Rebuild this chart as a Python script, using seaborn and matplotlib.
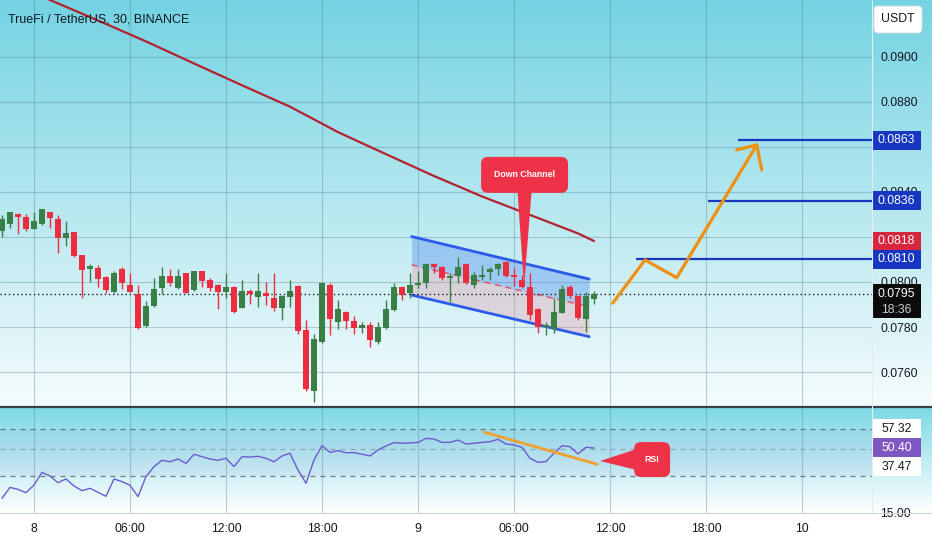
import numpy as np
import matplotlib
matplotlib.use("Agg")
import matplotlib.pyplot as plt
import matplotlib.font_manager as fm
from matplotlib.colors import to_rgb
from matplotlib.patches import Rectangle, FancyBboxPatch, Polygon
import seaborn as sns

# ---- data ----
# 30 min candles, x axis in hours from day "8" 00:00 (first candle 22:00 the day before)
first_candle_hour = -2.0
candle_step = 0.5

opens = [0.08228, 0.08257, 0.08302, 0.08291, 0.08236, 0.08257, 0.08310, 0.08280, 0.08197, 0.08221,
         0.08118, 0.08056, 0.08060, 0.08021, 0.07955, 0.08059, 0.07988, 0.07946, 0.07803, 0.07893,
         0.07973, 0.08027, 0.07972, 0.08038, 0.07964, 0.08047, 0.08011, 0.07988, 0.07954, 0.07978,
         0.07886, 0.07961, 0.07935, 0.07950, 0.07929, 0.07884, 0.07935, 0.07982, 0.07787, 0.07517,
         0.07733, 0.07988, 0.07824, 0.07867, 0.07828, 0.07796, 0.07809, 0.07733, 0.07794, 0.07876,
         0.07979, 0.07952, 0.07985, 0.07997, 0.08080, 0.08068, 0.08016, 0.08027, 0.08080, 0.07987,
         0.08023, 0.08046, 0.08056, 0.08089, 0.08030, 0.08009, 0.07979, 0.07879, 0.07799, 0.07790,
         0.07864, 0.07979, 0.07938, 0.07834, 0.07926]
highs = [0.08298, 0.08313, 0.08305, 0.08301, 0.08310, 0.08324, 0.08311, 0.08298, 0.08270, 0.08222,
         0.08120, 0.08080, 0.08076, 0.08028, 0.08050, 0.08067, 0.08038, 0.07987, 0.07917, 0.08016,
         0.08065, 0.08058, 0.08056, 0.08040, 0.08049, 0.08049, 0.08019, 0.07991, 0.08038, 0.07982,
         0.08009, 0.07970, 0.08038, 0.08002, 0.08038, 0.07942, 0.08009, 0.07988, 0.07831, 0.07769,
         0.08000, 0.07997, 0.07920, 0.07871, 0.07847, 0.07823, 0.07823, 0.07823, 0.07920, 0.07997,
         0.07982, 0.08038, 0.08050, 0.08086, 0.08086, 0.08071, 0.08038, 0.08110, 0.08084, 0.08046,
         0.08076, 0.08067, 0.08083, 0.08094, 0.08060, 0.08031, 0.08038, 0.07885, 0.07823, 0.07928,
         0.07987, 0.07987, 0.07942, 0.07957, 0.07961]
lows = [0.08201, 0.08242, 0.08212, 0.08228, 0.08234, 0.08254, 0.08242, 0.08130, 0.08161, 0.08111,
        0.07929, 0.08001, 0.07979, 0.07952, 0.07950, 0.07969, 0.07955, 0.07791, 0.07800, 0.07890,
        0.07946, 0.07982, 0.07969, 0.07951, 0.07962, 0.07979, 0.07962, 0.07882, 0.07929, 0.07862,
        0.07883, 0.07902, 0.07890, 0.07899, 0.07870, 0.07831, 0.07890, 0.07769, 0.07514, 0.07465,
        0.07729, 0.07765, 0.07790, 0.07790, 0.07769, 0.07772, 0.07713, 0.07725, 0.07791, 0.07873,
        0.07920, 0.07929, 0.07972, 0.07972, 0.08038, 0.08011, 0.07911, 0.07994, 0.07991, 0.07973,
        0.08009, 0.08009, 0.08031, 0.08021, 0.07982, 0.07972, 0.07831, 0.07772, 0.07765, 0.07772,
        0.07862, 0.07929, 0.07831, 0.07780, 0.07902]
closes = [0.08279, 0.08310, 0.08288, 0.08234, 0.08270, 0.08324, 0.08286, 0.08197, 0.08219, 0.08114,
          0.08054, 0.08069, 0.08013, 0.07964, 0.08038, 0.07996, 0.07957, 0.07797, 0.07895, 0.07969,
          0.08027, 0.07994, 0.08028, 0.07952, 0.08049, 0.08005, 0.07975, 0.07954, 0.07979, 0.07866,
          0.07960, 0.07946, 0.07960, 0.07937, 0.07884, 0.07938, 0.07959, 0.07781, 0.07523, 0.07747,
          0.07997, 0.07836, 0.07879, 0.07828, 0.07794, 0.07808, 0.07742, 0.07798, 0.07879, 0.07979,
          0.07944, 0.07988, 0.07994, 0.08080, 0.08068, 0.08016, 0.08027, 0.08068, 0.07997, 0.08030,
          0.08031, 0.08059, 0.08080, 0.08027, 0.08021, 0.07979, 0.07853, 0.07799, 0.07809, 0.07868,
          0.07969, 0.07938, 0.07839, 0.07938, 0.07946]

rsi_values = [22.6, 28.6, 27.5, 25.7, 29.9, 36.9, 34.9, 31.2, 33.3, 29.4,
              26.8, 28.1, 25.9, 23.7, 33.3, 31.8, 29.8, 23.5, 34.6, 40.1,
              43.6, 42.8, 44.3, 41.9, 46.9, 45.6, 44.3, 43.6, 44.7, 40.1,
              45.6, 45.4, 45.8, 44.7, 42.8, 46.0, 47.5, 38.2, 30.9, 43.8,
              51.7, 48.0, 48.9, 47.8, 47.8, 47.0, 46.0, 49.3, 51.5, 53.4,
              53.0, 53.2, 53.5, 55.7, 55.4, 53.5, 53.5, 54.8, 52.6, 53.0,
              53.5, 53.9, 55.2, 52.6, 52.1, 50.8, 44.7, 42.5, 42.9, 47.5,
              51.7, 51.1, 47.1, 50.8, 50.4]

# moving average (dark red curve)
ma_hours = [-2, 1, 4, 7, 10, 13, 16, 19, 22, 25, 28, 31, 34, 35]
ma_values = [0.09345, 0.09253, 0.09162, 0.09069, 0.08971, 0.08874, 0.08779,
             0.08666, 0.08568, 0.08471, 0.08380, 0.08298, 0.08216, 0.08182]

# down channel drawing
channel_hours = [23.6, 34.7]
channel_upper = [0.08202, 0.08013]
channel_mid = [0.08076, 0.07890]
channel_lower = [0.07942, 0.07757]

# target levels and projected path
target_levels = [0.0863, 0.0836, 0.0810]
target_start = [44.0, 42.1, 37.6]
path_hours = [36.17, 38.19, 40.17, 45.17]
path_prices = [0.07906, 0.08098, 0.08019, 0.08609]
head_hours = [43.92, 45.17, 45.48]
head_prices = [0.08587, 0.08609, 0.08498]

# RSI pane drawings
rsi_bands = [61, 50, 35]
rsi_trend_hours = [28.15, 35.2]
rsi_trend_values = [59.1, 41.4]

# callouts: (box centre, pointer tip)
channel_note = ((30.66, 0.08476), (30.63, 0.07978))
rsi_note = ((38.63, 44.0), (35.38, 43.2))

price_ticks = [0.0760, 0.0780, 0.0800, 0.0820, 0.0840, 0.0860, 0.0880, 0.0900]
hidden_ticks = [0.0820, 0.0860]   # fully covered by the tags in the reference
time_ticks = [0, 6, 12, 18, 24, 30, 36, 42, 48]
time_labels = ["8", "06:00", "12:00", "18:00", "9", "06:00", "12:00", "18:00", "10"]

# ---- style ----
sns.set_theme(style="white")
names = {f.name for f in fm.fontManager.ttflist}
fam = "Liberation Sans Narrow" if "Liberation Sans Narrow" in names else "Liberation Sans"
plt.rcParams["font.family"] = [fam, "DejaVu Sans"]
FS = 8.8

TXT = "#131722"
GREEN = "#3A7F45"
RED = "#EE2C40"
BLUE = "#1737C1"
W, H = 932, 550
XLIM = (-2.125, 52.375)

fig = plt.figure(figsize=(W / 100, H / 100), dpi=100)

# background gradients (one per pane)
bg = fig.add_axes([0, 0, 1, 1], zorder=0)


def vgrad(c_top, c_bottom, y0, y1):
    t = np.linspace(0, 1, 256)[:, None, None]
    a = np.array(to_rgb(c_top))[None, None, :]
    b = np.array(to_rgb(c_bottom))[None, None, :]
    bg.imshow(a + (b - a) * t, extent=[0, W, y1, y0], aspect="auto", interpolation="bilinear")


vgrad("#74D3E2", "#F6FCFD", 0, 407)
vgrad("#7CD9E6", "#FFFFFF", 407, 513)
bg.add_patch(Rectangle((0, 513), W, H - 513, color="white"))
bg.set_xlim(0, W)
bg.set_ylim(H, 0)
bg.axis("off")

main = fig.add_axes([0, 1 - 406 / H, 872 / W, 406 / H], zorder=2)
rsi = fig.add_axes([0, 1 - 513 / H, 872 / W, 105 / H], zorder=2)
top = fig.add_axes([0, 0, 1, 1], zorder=5)
for a in (main, rsi, top):
    a.patch.set_alpha(0)

# ---- price pane ----
main.set_xlim(*XLIM)
main.set_ylim(0.07449, 0.09253)
main.set_xticks(time_ticks)
main.set_yticks(price_ticks)
main.set_yticklabels(["" if v in hidden_ticks else f"{v:.4f}" for v in price_ticks])
main.yaxis.tick_right()
main.tick_params(axis="y", length=0, pad=6, labelsize=FS, labelcolor=TXT)
main.tick_params(axis="x", length=0, labelbottom=False)
main.grid(True, color="#4E7F89", alpha=0.35, lw=0.8)
main.set_axisbelow(True)
for s in main.spines.values():
    s.set_visible(False)

o = np.array(opens)
c = np.array(closes)
hours = first_candle_hour + candle_step * np.arange(len(opens))
cols = [GREEN if cc >= oo else RED for oo, cc in zip(o, c)]

# channel
main.fill_between(channel_hours, channel_mid, channel_upper, color="#3D7BF0", alpha=0.32, lw=0, zorder=1)
main.fill_between(channel_hours, channel_lower, channel_mid, color="#F06A7E", alpha=0.22, lw=0, zorder=1)
main.plot(channel_hours, channel_upper, color="#2C5BEA", lw=2.0, zorder=2)
main.plot(channel_hours, channel_lower, color="#2C5BEA", lw=2.0, zorder=2)
main.plot(channel_hours, channel_mid, color="#E5536A", lw=1.1, ls=(0, (4, 3)), zorder=2)

sns.lineplot(x=ma_hours, y=ma_values, ax=main, color="#B2222F", lw=1.6, sort=False, zorder=2)

main.axhline(closes[-1], color="#1C1C1C", lw=1.0, ls=(0, (1, 2)), zorder=2.5)

main.vlines(hours, lows, highs, colors=cols, lw=1.0, zorder=3)
main.bar(hours, np.maximum(np.abs(c - o), 0.00004), bottom=np.minimum(o, c), width=0.34,
         color=cols, linewidth=0, zorder=4)

main.hlines(target_levels, target_start, XLIM[1], color=BLUE, lw=1.6, zorder=3)
main.plot(path_hours, path_prices, color="#F0900F", lw=2.3, solid_capstyle="round",
          solid_joinstyle="round", zorder=5)
main.plot(head_hours, head_prices, color="#F0900F", lw=2.3, solid_capstyle="round",
          solid_joinstyle="round", zorder=5)

# ---- RSI pane ----
rsi.set_xlim(*XLIM)
rsi.set_ylim(14.45, 72.52)
rsi.axhspan(rsi_bands[2], rsi_bands[0], color="#7E57C2", alpha=0.07, lw=0)
for lvl, al in zip(rsi_bands, [0.9, 0.45, 0.9]):
    rsi.axhline(lvl, color="#5F6E74", alpha=al, lw=0.9, ls=(0, (4, 4)))
sns.lineplot(x=hours, y=rsi_values, ax=rsi, color="#6B5BCF", lw=1.0, sort=False, zorder=3)
rsi.plot(rsi_trend_hours, rsi_trend_values, color="#F0A030", lw=2.0, solid_capstyle="round", zorder=4)
rsi.set_xticks(time_ticks)
rsi.set_xticklabels(time_labels)
rsi.set_yticks([15])
rsi.set_yticklabels(["15.00"])
rsi.yaxis.tick_right()
rsi.tick_params(axis="y", length=0, pad=6, labelsize=FS, labelcolor=TXT)
rsi.tick_params(axis="x", length=0, pad=7.5, labelsize=FS, labelcolor=TXT)
rsi.grid(True, axis="x", color="#4E7F89", alpha=0.35, lw=0.8)
rsi.set_axisbelow(True)
for s in rsi.spines.values():
    s.set_visible(False)

# ---- overlay: separators, callouts, axis tags ----
top.set_xlim(0, W)
top.set_ylim(H, 0)
top.axis("off")
top.hlines(407, 0, W, color="#34434A", lw=1.6)
top.vlines(872, 0, 513, color="#E4EEF0", lw=0.8)
top.hlines(513, 0, W, color="#C8D2D5", lw=0.8)

top.text(8, 19, "TrueFi / TetherUS, 30, BINANCE", fontsize=9.0, va="center", color=TXT)


def to_px(axis, x, y):
    dx, dy = axis.transData.transform((x, y))
    return dx, H - dy


def callout(axis, note, text, w, h, side):
    (bx, by), (tx, ty) = note
    cx, cy = to_px(axis, bx, by)
    px, py = to_px(axis, tx, ty)
    if side == "bottom":
        base = [(cx - 7, cy + h / 2 - 1), (cx + 7, cy + h / 2 - 1)]
    else:
        base = [(cx - w / 2 + 1, cy - 10), (cx - w / 2 + 1, cy + 10)]
    top.add_patch(Polygon(base + [(px, py)], closed=True, fc="#EE3349", ec="none"))
    top.add_patch(FancyBboxPatch((cx - w / 2, cy - h / 2), w, h,
                                 boxstyle="round,pad=0,rounding_size=7", fc="#EE3349", ec="none"))
    top.text(cx, cy, text, ha="center", va="center", color="white", fontsize=6.3, fontweight="bold")


callout(main, channel_note, "Down Channel", 87, 36, "bottom")
callout(rsi, rsi_note, "RSI", 36, 35, "left")


def tag(axis, value, text, face, fg="white", dy=0, h=19, sub=None):
    y = to_px(axis, 0, value)[1] + dy
    if sub is None:
        top.add_patch(Rectangle((872, y - h / 2), 49, h, fc=face, ec="none"))
        top.text(896.5, y, text, ha="center", va="center", color=fg, fontsize=FS)
    else:
        top.add_patch(Rectangle((872, y - 10), 49, 34, fc=face, ec="none"))
        top.text(896.5, y, text, ha="center", va="center", color=fg, fontsize=FS)
        top.text(896.5, y + 16, sub, ha="center", va="center", color="#C8CCD0", fontsize=FS)


tag(main, target_levels[0], "0.0863", BLUE)
tag(main, target_levels[1], "0.0836", BLUE)
tag(main, ma_values[-1], "0.0818", "#D7263D")
tag(main, target_levels[2], "0.0810", BLUE)
tag(main, closes[-1], "0.0795", "#0B0B0B", sub="18:36")

tag(rsi, rsi_values[-1], "57.32", "white", fg=TXT, dy=-19)
tag(rsi, rsi_values[-1], "50.40", "#7E57C2")
tag(rsi, rsi_values[-1], "37.47", "white", fg=TXT, dy=19)

top.add_patch(FancyBboxPatch((874, 6), 48, 27, boxstyle="round,pad=0,rounding_size=4",
                             fc="white", ec="#D6DEE0", lw=0.6))
top.text(898, 19.5, "USDT", ha="center", va="center", fontsize=FS, color=TXT)

fig.savefig("out.png", dpi=100)
